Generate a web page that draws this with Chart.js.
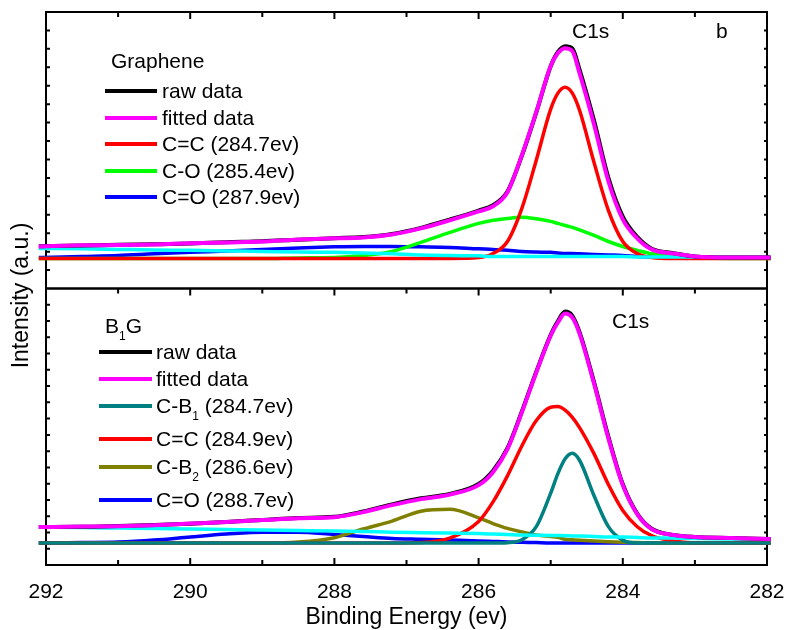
<!DOCTYPE html>
<html>
<head>
<meta charset="utf-8">
<script src="https://cdn.jsdelivr.net/npm/chart.js@4.4.0/dist/chart.umd.min.js"></script>
<style>
  body { margin: 0; background: #fff; }
</style>
</head>
<body>
<canvas id="xps" width="786" height="630"></canvas>
<script>
// binding energy sample points (eV), shared by every curve
const energy = [292.1, 291.5, 291, 290.5, 290, 289.5, 289, 288.5, 288, 287.6, 287.2, 286.8, 286.4, 286.0, 285.8, 285.6,
                285.4, 285.2, 285.0, 284.9, 284.8, 284.7, 284.6, 284.4, 284.2, 284.0, 283.8, 283.6, 283.3, 283.0, 282.5, 281.95];

// Graphene (top panel)
const grRaw    = [22.9, 23.3, 23.7, 24.0, 24.4, 25.1, 25.6, 26.5, 27.3, 27.9, 29.6, 32.9, 37.4, 42.3, 45.2, 52.6,
                  72.0, 95.5, 120.6, 128.3, 131.4, 130.2, 118.8, 91.2, 60.0, 39.0, 28.0, 21.6, 19.2, 17.4, 16.8, 16.8];
const grFit    = [22.8, 23.4, 23.6, 23.9, 24.5, 25.0, 25.5, 26.6, 27.2, 27.7, 29.3, 32.6, 37.0, 41.8, 44.6, 52.2,
                  72.3, 95.7, 120.7, 127.7, 130.4, 128.8, 116.8, 89.1, 58.2, 37.5, 27.2, 21.2, 19.0, 17.4, 16.8, 16.8];
const grCC     = [16.3, 16.3, 16.3, 16.3, 16.3, 16.3, 16.3, 16.3, 16.3, 16.3, 16.3, 16.3, 16.3, 16.8, 19.0, 25.5,
                  43.5, 69.6, 97.3, 106.0, 109.2, 106.0, 96.7, 68.5, 42.4, 25.5, 19.0, 16.8, 16.3, 16.3, 16.3, 16.3];
const grCO     = [16.3, 16.3, 16.3, 16.3, 16.3, 16.3, 16.3, 16.6, 16.8, 17.9, 20.1, 25.0, 30.4, 35.3, 37.0, 38.0,
                  38.6, 37.8, 36.4, 35.3, 34.2, 33.2, 31.8, 28.8, 25.5, 22.8, 20.7, 18.8, 17.4, 16.8, 16.3, 16.3];
const grCdO    = [16.8, 17.4, 17.9, 18.8, 19.6, 20.4, 21.2, 22.0, 22.6, 22.8, 22.8, 22.6, 22.3, 21.5, 21.2, 20.7,
                  20.1, 19.8, 19.6, 19.3, 19.0, 19.0, 18.8, 18.5, 18.2, 17.9, 17.4, 17.1, 16.8, 16.8, 16.8, 16.8];
const grBg     = [21.7, 21.5, 21.2, 20.9, 20.7, 20.4, 20.1, 19.8, 19.6, 19.3, 18.8, 18.2, 17.9, 17.7, 17.4, 17.4,
                  17.4, 17.4, 17.4, 17.4, 17.4, 17.4, 17.4, 17.4, 17.4, 17.4, 17.1, 17.1, 17.1, 17.1, 16.8, 16.8];

// B1G (bottom panel)
const bgRaw    = [23.4, 23.5, 24.0, 24.6, 25.4, 26.5, 27.7, 28.9, 29.6, 32.9, 37.3, 41.0, 43.7, 49.8, 58.0, 71.8,
                  94.4, 118.8, 141.5, 150.0, 155.8, 153.2, 143.2, 112.6, 78.8, 49.6, 31.6, 22.3, 18.5, 17.2, 16.6, 16.0];
const bgFit    = [23.3, 23.6, 23.9, 24.5, 25.5, 26.4, 27.6, 28.8, 29.4, 32.5, 36.8, 40.5, 43.3, 49.1, 57.1, 71.2,
                  93.9, 118.4, 141.1, 149.1, 154.6, 152.1, 142.3, 111.7, 77.9, 49.1, 31.3, 22.1, 18.4, 17.2, 16.6, 16.0];
const bgCB1    = [13.5, 13.5, 13.5, 13.5, 13.5, 13.5, 13.5, 13.5, 13.5, 13.5, 13.5, 13.5, 13.5, 13.5, 13.5, 13.7,
                  15.5, 23.6, 44.2, 56.2, 65.3, 68.7, 64.4, 42.7, 23.6, 15.3, 13.5, 13.5, 13.5, 13.5, 13.5, 13.5];
const bgCC     = [13.5, 13.5, 13.5, 13.5, 13.5, 13.5, 13.5, 13.5, 13.5, 13.5, 13.5, 13.8, 16.5, 26.8, 38.8, 54.8,
                  73.2, 88.8, 97.0, 97.4, 95.2, 90.8, 84.5, 68.5, 49.5, 33.5, 23.5, 18.0, 14.7, 13.6, 13.5, 13.5];
const bgCB2    = [13.5, 13.5, 13.5, 13.5, 13.5, 13.5, 13.5, 14.1, 16.8, 22.1, 27.0, 33.0, 34.2, 29.0, 25.5, 22.5,
                  20.3, 18.5, 17.5, 17.0, 15.8, 15.5, 15.2, 14.7, 14.3, 14.0, 13.8, 13.5, 13.5, 13.5, 13.5, 13.5];
const bgCdO    = [13.5, 13.8, 14.1, 15.3, 17.2, 19.0, 20.2, 20.2, 18.7, 17.5, 16.3, 15.8, 15.3, 14.8, 14.5, 14.2,
                  14.0, 13.8, 13.6, 13.6, 13.5, 13.5, 13.5, 13.5, 13.5, 13.5, 13.5, 13.5, 13.5, 13.5, 13.5, 13.5];
const bgBg     = [23.3, 23.0, 22.7, 22.4, 22.1, 21.8, 21.5, 21.2, 20.9, 20.6, 20.2, 19.9, 19.6, 19.3, 19.0, 18.7,
                  18.4, 18.3, 18.2, 18.1, 18.0, 17.9, 17.8, 17.5, 17.2, 17.2, 16.9, 16.6, 16.6, 16.3, 16.0, 16.0];

const xTicks = [292, 290, 288, 286, 284, 282];
const FONT = "'Liberation Sans', Arial, sans-serif";

Chart.defaults.font.family = FONT;
Chart.defaults.color = '#000';

function pts(vals) {
    return energy.map((e, i) => ({ x: e, y: vals[i] }));
}

// legendRow < 0 means the curve is not listed in the legend (background)
function curve(label, vals, color, axis, order, legendRow, width) {
    return {
        label: label,
        data: pts(vals),
        borderColor: color,
        backgroundColor: color,
        borderWidth: width || 3.5,
        pointRadius: 0,
        fill: false,
        cubicInterpolationMode: 'monotone',
        clip: false,
        yAxisID: axis,
        order: order,
        legendRow: legendRow
    };
}

// draws text where ₁ ₂ are shown as small lowered digits
const SUB = { '\u2081': '1', '\u2082': '2' };
function richText(ctx, text, x, y, size) {
    let cx = x;
    let run = '';
    const flush = () => {
        if (!run) return;
        ctx.font = size + 'px ' + FONT;
        ctx.fillText(run, cx, y);
        cx += ctx.measureText(run).width;
        run = '';
    };
    for (const ch of text) {
        if (SUB[ch]) {
            flush();
            const s = Math.round(size * 0.55);
            ctx.font = s + 'px ' + FONT;
            ctx.fillText(SUB[ch], cx, y + size * 0.33);
            cx += ctx.measureText(SUB[ch]).width;
        } else {
            run += ch;
        }
    }
    flush();
}

const framePlugin = {
    id: 'frame',
    beforeDatasetsDraw(chart) {
        const ctx = chart.ctx;
        const ca = chart.chartArea;
        const xs = chart.scales.x;
        ctx.save();
        ctx.strokeStyle = '#000';
        ctx.lineWidth = 2;
        ['yTop', 'yBot'].forEach(id => {
            const ys = chart.scales[id];
            ctx.strokeRect(ca.left, ys.top, ca.right - ca.left, ys.bottom - ys.top);
            ctx.beginPath();
            // x ticks, pointing inward from the top edge of each panel
            for (let e = Math.ceil(xs.min); e <= xs.max; e++) {
                const px = xs.getPixelForValue(e);
                const len = e % 2 === 0 ? 7 : 5;
                ctx.moveTo(px, ys.top);
                ctx.lineTo(px, ys.top + len);
                if (id === 'yBot') {
                    ctx.moveTo(px, ys.bottom);
                    ctx.lineTo(px, ys.bottom - len);
                }
            }
            // y ticks on both sides
            ys.ticks.forEach(t => {
                if (t.value <= ys.min || t.value >= ys.max) return;
                const py = ys.getPixelForValue(t.value);
                ctx.moveTo(ca.left, py);
                ctx.lineTo(ca.left + 4, py);
                ctx.moveTo(ca.right, py);
                ctx.lineTo(ca.right - 3, py);
            });
            ctx.stroke();
        });
        ctx.restore();
    },
    afterDraw(chart) {
        const ctx = chart.ctx;
        const ca = chart.chartArea;
        ctx.save();
        ctx.fillStyle = '#000';
        ctx.textBaseline = 'alphabetic';

        // y axis title, spanning both panels
        ctx.save();
        ctx.translate(28, (ca.top + ca.bottom) / 2 + 7);
        ctx.rotate(-Math.PI / 2);
        ctx.textAlign = 'center';
        ctx.font = '23px ' + FONT;
        ctx.fillText('Intensity (a.u.)', 0, 0);
        ctx.restore();

        ctx.textAlign = 'left';
        ctx.font = '21px ' + FONT;
        ctx.fillText('C1s', 572, 38);
        ctx.fillText('b', 716, 38);
        ctx.fillText('C1s', 612, 328);

        // in-plot legends
        const legends = [
            { axis: 'yTop', title: 'Graphene', tx: 111, ty: 68, x0: 105, x1: 157, textX: 162, rows: [91, 118, 144, 171, 197] },
            { axis: 'yBot', title: 'B\u2081G', tx: 105, ty: 333, x0: 99, x1: 152, textX: 156, rows: [352, 379, 406, 439, 467, 500] }
        ];
        legends.forEach(lg => {
            ctx.fillStyle = '#000';
            richText(ctx, lg.title, lg.tx, lg.ty, 21);
            chart.data.datasets
                .filter(ds => ds.yAxisID === lg.axis && ds.legendRow >= 0)
                .forEach(ds => {
                    const y = lg.rows[ds.legendRow];
                    ctx.strokeStyle = ds.borderColor;
                    ctx.lineWidth = 4;
                    ctx.beginPath();
                    ctx.moveTo(lg.x0, y);
                    ctx.lineTo(lg.x1, y);
                    ctx.stroke();
                    ctx.fillStyle = '#000';
                    richText(ctx, ds.label, lg.textX, y + 7, 21);
                });
        });
        ctx.restore();
    }
};

new Chart(document.getElementById('xps'), {
    type: 'line',
    data: {
        datasets: [
            curve('fitted data', grFit, '#ff00ff', 'yTop', 0, 1, 4),
            curve('raw data', grRaw, '#000000', 'yTop', 1, 0, 4),
            curve('background', grBg, '#00ffff', 'yTop', 2, -1),
            curve('C=C (284.7ev)', grCC, '#ff0000', 'yTop', 3, 2),
            curve('C-O (285.4ev)', grCO, '#00ff00', 'yTop', 4, 3),
            curve('C=O (287.9ev)', grCdO, '#0000ff', 'yTop', 5, 4),

            curve('fitted data', bgFit, '#ff00ff', 'yBot', 0, 1, 4),
            curve('raw data', bgRaw, '#000000', 'yBot', 1, 0, 4),
            curve('background', bgBg, '#00ffff', 'yBot', 2, -1),
            curve('C-B\u2081 (284.7ev)', bgCB1, '#008080', 'yBot', 3, 2),
            curve('C=C (284.9ev)', bgCC, '#ff0000', 'yBot', 4, 3),
            curve('C-B\u2082 (286.6ev)', bgCB2, '#808000', 'yBot', 5, 4),
            curve('C=O (288.7ev)', bgCdO, '#0000ff', 'yBot', 6, 5)
        ]
    },
    options: {
        responsive: false,
        animation: false,
        devicePixelRatio: 1,
        layout: { padding: { left: 46, right: 19, top: 12, bottom: 0 } },
        plugins: {
            legend: { display: false },
            tooltip: { enabled: false }
        },
        scales: {
            x: {
                type: 'linear',
                min: 282,
                max: 292,
                reverse: true,
                grid: { display: false, drawTicks: false },
                border: { display: false },
                afterBuildTicks: scale => {
                    scale.ticks = xTicks.map(v => ({ value: v }));
                },
                afterFit: scale => {
                    // fixed axis band under the plot, no extra room for end labels
                    scale.height = 65;
                    scale.paddingLeft = 0;
                    scale.paddingRight = 0;
                },
                ticks: {
                    font: { size: 21, lineHeight: 1 },
                    padding: 17,
                    maxRotation: 0,
                    autoSkip: false
                },
                title: {
                    display: true,
                    text: 'Binding Energy (ev)',
                    font: { size: 23, lineHeight: 1 },
                    padding: { top: 3, bottom: 1 }
                }
            },
            yBot: {
                type: 'linear',
                position: 'left',
                stack: 'panels',
                stackWeight: 1,
                min: 0,
                max: 170,
                grid: { display: false, drawTicks: false },
                border: { display: false },
                ticks: { display: false, stepSize: 10 }
            },
            yTop: {
                type: 'linear',
                position: 'left',
                stack: 'panels',
                stackWeight: 1,
                min: 0,
                max: 150,
                grid: { display: false, drawTicks: false },
                border: { display: false },
                ticks: { display: false, stepSize: 10 }
            }
        }
    },
    plugins: [framePlugin]
});
</script>
</body>
</html>
